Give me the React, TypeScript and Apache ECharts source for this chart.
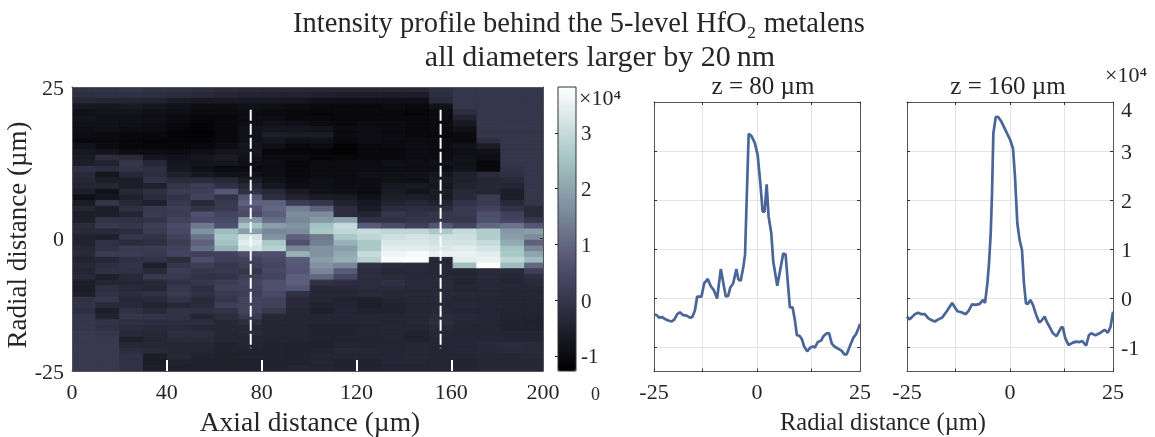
import React, { useEffect, useRef } from "react";
import * as echarts from "echarts";

// Heat map: one array per axial column, each holding 50 radial rows from +25 to -25 um (units of 1e4).
const c0 = [-0.05,-0.15,-0.35,-0.7,-0.85,-0.8,-0.85,-0.9,-0.95,-1.05,
  -0.85,-0.7,-0.65,-0.55,-0.1,-0.3,-0.35,-0.4,-0.55,-0.9,
  -0.6,-0.4,-0.55,-0.5,-0.25,-0.3,-0.45,-0.45,-0.35,-0.3,
  -0.45,-0.35,-0.4,-0.3,-0.55,-0.6,-0.55,-0.1,-0.05,-0.15,
  0,0,0.02,0.05,0.05,0.05,0.05,0.05,0.05,0.05];
const c1 = [-0.05,-0.1,-0.4,-0.75,-0.8,-0.85,-0.85,-0.85,-1.0,-1.05,
  -1.0,-0.8,-0.2,-0.45,-0.2,-0.75,-0.55,-0.35,-0.85,-0.75,
  0,-0.55,-0.55,-0.05,0.05,-0.3,-0.5,-0.1,-0.05,0.1,
  -0.35,-0.2,-0.1,-0.5,-0.4,-0.15,-0.1,0,-0.3,-0.55,
  -0.45,-0.05,-0.1,0,0.05,0.05,0.05,0.05,0.05,0.05];
const c2 = [0,-0.1,-0.4,-0.65,-0.8,-0.85,-0.9,-0.95,-1.05,-1.1,
  -1.1,-0.95,-0.3,0,-0.05,-0.35,-0.55,-0.55,-0.35,-0.5,
  -0.35,-0.15,-0.4,-0.1,0,-0.2,0,-0.25,0.1,0.15,
  -0.1,-0.05,-0.1,-0.3,-0.4,-0.3,-0.2,-0.35,-0.3,-0.1,
  0,-0.15,-0.2,-0.3,-0.5,-0.35,-0.2,-0.1,-0.1,-0.1];
const c3 = [-0.05,-0.15,-0.45,-0.75,-0.85,-0.9,-0.95,-0.95,-1.05,-1.15,
  -1.1,-0.95,-0.75,-0.35,-0.15,-0.2,-0.05,-0.5,-0.15,-0.25,
  -0.5,0.05,0.1,-0.05,0.2,0.1,-0.05,-0.15,0.1,0.05,
  -0.05,-0.55,-0.3,0.05,-0.3,-0.35,-0.1,-0.3,-0.45,-0.3,
  -0.05,-0.2,-0.3,-0.35,-0.4,-0.35,-0.3,-0.55,-0.6,-0.55];
const c4 = [-0.1,-0.25,-0.6,-0.85,-0.9,-1.0,-1.05,-1.1,-1.15,-1.15,
  -1.1,-1.0,-0.85,-0.75,-0.7,-0.5,-0.25,0,0.1,-0.05,
  0.05,0.2,0.15,0.3,0.5,0.4,0.3,0.15,0.3,0.35,
  -0.25,0,0.15,0.05,-0.1,0.05,0.1,-0.05,-0.35,-0.05,
  -0.1,-0.2,-0.25,-0.2,-0.25,-0.35,-0.35,-0.35,-0.45,-0.5];
const c5 = [-0.15,-0.3,-0.7,-0.95,-1.0,-1.1,-1.15,-1.15,-1.2,-1.15,
  -1.05,-0.9,-0.75,-0.8,-0.85,-0.7,-0.25,0.15,0.2,0.3,
  -0.3,-0.05,0.6,0.5,1.3,1.7,1.2,0.9,1.1,0.25,
  0.55,0.15,0,-0.1,0,-0.15,-0.1,-0.3,-0.25,-0.1,
  -0.4,-0.2,-0.35,-0.2,-0.25,-0.35,-0.4,-0.45,-0.5,-0.5];
const c6 = [-0.25,-0.4,-0.65,-0.95,-1.0,-1.05,-1.05,-1.05,-1.05,-1.05,
  -0.95,-0.8,-0.6,-0.75,-1.0,-0.85,-0.35,-0.1,0.75,-0.05,
  0.05,0.1,0.35,0.45,0.6,2.4,2.6,2.5,2.2,0.3,
  0.2,0,0.05,-0.05,0.15,0.25,0.1,0,0.2,-0.05,
  -0.2,-0.35,-0.35,-0.4,-0.4,-0.45,-0.45,-0.5,-0.5,-0.5];
const c7 = [-0.3,-0.45,-0.7,-0.85,-0.95,-0.95,-0.95,-0.85,-0.85,-0.85,
  -0.8,-0.75,-0.85,-0.9,-1.0,-0.85,-0.6,-0.35,-0.1,0.7,
  0.9,0.6,0.5,1.8,2.5,1.9,3.2,3.4,3.2,0.55,
  0.3,0.2,0,0.2,0.35,0.3,0.2,0.3,0.3,0.3,
  0.05,-0.2,-0.35,-0.3,-0.4,-0.4,-0.45,-0.45,-0.5,-0.5];
const c8 = [-0.3,-0.45,-0.7,-0.9,-1.0,-0.95,-0.85,-0.75,-0.55,-0.75,
  -0.9,-1.05,-1.0,-0.95,-0.95,-0.95,-0.85,-0.7,-0.35,-0.15,
  0.9,1.0,0.85,1.1,1.9,1.5,1.7,2.6,2.8,0.6,
  0.45,0.35,0.4,0.35,0.6,0.6,0.45,0.3,0.25,0.05,
  -0.35,-0.4,-0.4,-0.4,-0.42,-0.45,-0.45,-0.45,-0.45,-0.45];
const c9 = [-0.3,-0.45,-0.75,-1.0,-1.05,-1.05,-0.9,-0.75,-0.6,-0.9,
  -1.05,-1.1,-1.0,-1.05,-1.05,-1.05,-1.0,-0.95,-0.65,-0.45,
  0.15,1.4,1.6,1.5,1.7,1.6,0.9,0.6,1.5,2.2,
  0.8,0.75,0.7,0.85,0.85,0.7,-0.1,-0.3,-0.3,-0.35,
  -0.4,-0.4,-0.4,-0.4,-0.42,-0.45,-0.45,-0.45,-0.45,-0.42];
const c10 = [-0.35,-0.5,-0.85,-1.05,-1.1,-1.05,-1.0,-0.8,-0.6,-0.85,
  -1.0,-1.15,-1.1,-1.0,-1.0,-1.0,-0.9,-0.9,-0.85,-0.6,
  0,0.9,1.6,1.8,2.5,2.6,1.3,1.4,1.7,1.7,
  1.9,1.7,1.5,1.0,-0.1,-0.3,-0.35,-0.4,-0.45,-0.5,
  -0.42,-0.42,-0.45,-0.45,-0.48,-0.48,-0.45,-0.4,-0.4,-0.42];
const c11 = [-0.35,-0.55,-0.9,-1.05,-1.05,-1.05,-1.05,-1.0,-1.0,-1.05,
  -1.2,-1.2,-1.1,-1.0,-1.0,-1.0,-1.0,-0.95,-0.9,-0.65,
  -0.45,-0.2,-0.2,2.0,3.0,2.9,2.6,2.2,1.9,2.1,
  2.2,1.5,0.8,0.4,-0.2,-0.3,-0.35,-0.45,-0.42,-0.38,
  -0.38,-0.42,-0.45,-0.45,-0.45,-0.38,-0.35,-0.4,-0.45,-0.45];
const c12 = [-0.35,-0.55,-0.85,-1.05,-1.05,-1.05,-1.0,-0.95,-0.95,-0.95,
  -1.05,-1.05,-1.05,-1.0,-0.95,-0.9,-0.95,-0.95,-1.0,-0.85,
  -0.7,-0.6,-0.4,-0.1,0.8,3.0,2.9,2.6,2.6,3.0,
  2.8,-0.15,-0.2,-0.2,-0.22,-0.25,-0.28,-0.5,-0.55,-0.45,
  -0.4,-0.4,-0.42,-0.42,-0.45,-0.42,-0.38,-0.42,-0.45,-0.45];
const c13 = [-0.35,-0.6,-0.9,-1.0,-1.05,-1.05,-1.0,-1.0,-1.0,-1.0,
  -1.0,-1.05,-1.05,-0.9,-0.95,-0.9,-0.85,-0.7,-0.65,-0.55,
  -0.45,-0.25,0,-0.1,0.5,2.9,3.1,3.3,3.4,3.6,
  3.75,-0.25,-0.3,-0.25,-0.12,-0.25,-0.32,-0.42,-0.45,-0.45,
  -0.42,-0.42,-0.38,-0.38,-0.42,-0.42,-0.42,-0.38,-0.38,-0.42];
const c14 = [-0.35,-0.6,-0.9,-1.05,-1.1,-1.05,-1.05,-1.05,-1.05,-1.0,
  -0.95,-0.95,-1.0,-0.95,-0.95,-0.85,-0.9,-0.65,-0.8,-0.55,
  -0.35,-0.2,-0.1,0,0.2,2.9,3.2,3.3,3.4,3.7,
  3.8,-0.3,-0.3,-0.3,-0.3,-0.3,-0.32,-0.35,-0.4,-0.35,
  -0.35,-0.35,-0.4,-0.48,-0.48,-0.35,-0.35,-0.35,-0.4,-0.42];
const c15 = [-0.15,-0.2,-0.3,-0.85,-1.0,-1.0,-1.0,-1.0,-1.05,-1.0,
  -1.0,-1.0,-1.0,-0.85,-0.95,-0.75,-0.65,-0.75,-0.6,-0.65,
  -0.45,-0.25,0,0,0.7,2.6,3.1,3.2,3.3,3.5,
  -0.35,-0.35,-0.35,-0.32,-0.3,-0.3,-0.3,-0.32,-0.35,-0.32,
  -0.25,-0.18,-0.3,-0.35,-0.38,-0.38,-0.38,-0.38,-0.4,-0.4];
const c16 = [0,0,0,0,-0.2,-0.45,-0.7,-0.85,-1.0,-1.05,
  -0.85,-0.9,-0.85,-0.85,-0.8,-0.5,-0.5,-0.45,-0.35,-0.3,
  -0.05,0.05,0.05,0,0.35,3.0,3.1,3.2,3.4,3.5,
  3.4,2.4,-0.4,-0.4,-0.42,-0.36,-0.32,-0.4,-0.32,-0.36,
  -0.32,-0.36,-0.4,-0.4,-0.36,-0.36,-0.36,-0.4,-0.42,-0.42];
const c17 = [0,0,0,0,0,0,0,0,0,-0.2,
  -0.6,-0.85,-0.95,-1.05,-1.05,-0.25,-0.4,-0.35,-0.4,0.1,
  0.1,0.3,0.55,0.6,1.0,2.7,2.7,3.0,3.2,3.4,
  3.5,3.8,-0.28,-0.28,-0.32,-0.32,-0.35,-0.4,-0.36,-0.4,
  -0.36,-0.36,-0.4,-0.4,-0.36,-0.28,-0.32,-0.35,-0.35,-0.36];
const c18 = [0,0,0,0,0,0,0,0,0,0,
  0,0,0,0,-0.05,-0.15,-0.3,-0.4,-0.55,-0.55,
  -0.3,-0.05,0.25,0.35,1.2,1.8,1.9,2.1,2.5,2.6,
  2.9,2.4,-0.28,-0.35,-0.38,-0.38,-0.4,-0.4,-0.42,-0.42,
  -0.45,-0.45,-0.45,-0.42,-0.36,-0.25,-0.28,-0.35,-0.35,-0.36];
const c19 = [0,0,0,0,0,0,0,0,0,0,
  0,0,0,0,0,0,0,0,0,0,
  0,-0.3,-0.3,0,0.7,1.9,1.6,0.9,1.5,2.0,
  2.4,1.0,0.2,-0.18,-0.28,-0.35,-0.36,-0.4,-0.42,-0.42,
  -0.45,-0.48,-0.45,-0.42,-0.4,-0.28,-0.28,-0.32,-0.35,-0.35];
const heatColumns = [c0,c1,c2,c3,c4,c5,c6,c7,c8,c9,c10,c11,c12,c13,c14,c15,c16,c17,c18,c19];

const columnStep = 10.05; // um
const rowStep = 1; // um
const dashedZ = [75.4, 155.5];
const dashedR = [21, -21];

// Colour scale (MATLAB "bone")
const boneColors = ["#000000","#1b1b26","#36364c","#515171","#6e788e","#8a9faa","#a6c6c6","#d3e3e3","#ffffff"];
const colorMin = -1.26;
const colorMax = 3.82;
const colorTicks = [-1,0,1,2,3];

// Line profiles
const z80X = [-25,-24.35,-23.79,-22.98,-22.34,-21.53,-20.73,-20.08,-19.35,-18.71,-17.9,-17.1,-16.29,-15.73,-15.08,-14.52,-13.47,-12.82,-11.94,-11.21,-10.48,-9.68,-8.79,-7.58,-7.02,-6.45,-5.81,-5,-4.52,-3.95,-3.31,-2.9,-2.58,-2.02,-1.37,-0.56,0.16,0.81,1.37,1.85,2.34,2.82,3.47,3.95,4.92,5.56,6.37,6.94,7.5,7.98,8.63,9.19,9.68,10.32,10.89,11.45,12.18,12.98,13.55,14.03,14.76,15.56,16.13,16.94,17.5,18.15,18.79,19.6,20.56,21.21,21.77,22.66,23.39,24.03,24.6,25];
const z80Y = [-0.33,-0.35,-0.4,-0.39,-0.43,-0.46,-0.48,-0.44,-0.33,-0.29,-0.35,-0.36,-0.4,-0.39,-0.26,0.03,0.03,0.3,0.39,0.24,0.16,-0.01,0.59,0.03,0.04,0.22,0.29,0.59,0.38,0.35,0.64,0.88,1.8,3.35,3.31,3.17,2.92,2.34,1.76,1.76,2.32,1.66,1.32,0.74,0.25,0.54,0.91,0.89,0.3,-0.19,-0.19,-0.45,-0.76,-0.77,-0.84,-0.99,-1.09,-1.01,-0.99,-1.01,-0.9,-0.87,-0.78,-0.72,-0.72,-0.93,-0.99,-1.03,-1.08,-1.15,-1.15,-0.96,-0.81,-0.74,-0.62,-0.53];
const z160X = [-25,-24.47,-23.91,-23.1,-22.29,-21.49,-20.68,-19.87,-19.06,-18.26,-17.45,-16.48,-15.43,-14.05,-12.76,-11.79,-10.74,-10.02,-9.21,-8.32,-7.35,-6.54,-6.06,-5.49,-5.09,-4.68,-4.36,-4.04,-3.47,-2.91,-2.1,-0.89,0.08,0.73,1.21,1.78,2.34,2.91,3.39,3.88,4.36,4.93,5.57,6.38,7.11,7.67,8.4,8.89,9.61,10.42,11.31,12.44,12.84,13.41,14.22,15.27,16.07,16.88,17.53,18.5,19.14,19.71,20.76,21.73,22.94,23.75,24.39,25];
const z160Y = [-0.38,-0.44,-0.4,-0.33,-0.3,-0.33,-0.33,-0.41,-0.45,-0.48,-0.44,-0.4,-0.28,-0.1,-0.27,-0.29,-0.33,-0.26,-0.13,-0.14,-0.12,-0.04,-0.1,0.3,0.71,1.32,2.14,3.36,3.69,3.7,3.6,3.39,3.22,3.05,2.48,1.52,1.18,0.98,0.3,-0.11,-0.12,-0.04,-0.14,-0.35,-0.5,-0.46,-0.38,-0.48,-0.59,-0.72,-0.78,-0.6,-0.6,-0.82,-0.96,-0.91,-0.89,-0.9,-0.88,-0.97,-0.76,-0.72,-0.76,-0.72,-0.65,-0.71,-0.59,-0.28];

// Axis ticks
const heatXTicks = [40,80,120,160];
const heatXLabels = [0,40,80,120,160,198.7]; // the last tick is printed as 200
const heatYLabels = [-25,-1.6,25]; // the middle label is printed as 0, where the reference has it
const radialTicks = [-25,-13.2,0,13.2,25];
const radialLabels = [-25,0,25];
const intensityTicks = [-1,0,1,2,3,4];
const intensityLabels = [-1,0,1,2,3,3.84]; // the top label is printed as 4, just under the frame

const FONT = "Liberation Serif";
const INK = "#262626";
const FRAME = "#555555";

function zip(a: number[], b: number[]) { return a.map((v, i) => [v, b[i]]); }

const heatData: number[][] = [];
heatColumns.forEach((col, c) => col.forEach((v, r) => heatData.push([c, r, v])));

const lineColor = "#4a6598";

function frameAxis(gridIndex: number, position: string, min: number, max: number, ticks: number[] | null) {
  return {
    gridIndex, type: "value", position, min, max, z: 10,
    axisLine: { show: true, onZero: false, lineStyle: { color: FRAME, width: 1 } },
    axisTick: ticks ? { show: true, inside: true, length: 3, customValues: ticks, lineStyle: { color: "#333", width: 1 } } : { show: false },
    axisLabel: { show: false },
    splitLine: { show: false },
  };
}

function lineAxisX(gridIndex: number) {
  return {
    gridIndex, type: "value", position: "bottom", min: -25, max: 25,
    axisLine: { show: true, onZero: false, lineStyle: { color: FRAME, width: 1 } },
    axisTick: { show: true, inside: true, length: 3, customValues: radialTicks, lineStyle: { color: "#333", width: 1 } },
    axisLabel: { show: true, customValues: radialLabels, margin: 9, fontFamily: FONT, fontSize: 22, color: INK, formatter: (v: number) => String(v) },
    splitLine: { show: true, lineStyle: { color: "#e4e4e4", width: 1 } },
  };
}

function lineAxisY(gridIndex: number, position: string, showLabels: boolean) {
  return {
    gridIndex, type: "value", position, min: -1.5, max: 4,
    axisLine: { show: true, onZero: false, lineStyle: { color: FRAME, width: 1 } },
    axisTick: { show: true, inside: true, length: 3, customValues: intensityTicks, lineStyle: { color: "#333", width: 1 } },
    axisLabel: showLabels
      ? { show: true, customValues: intensityLabels, margin: 8, fontFamily: FONT, fontSize: 22, color: INK, formatter: (v: number) => (v === intensityLabels[5] ? "4" : String(v)) }
      : { show: false },
    splitLine: { show: true, lineStyle: { color: "#e4e4e4", width: 1 } },
  };
}

function buildOption() {
  return {
    animation: false,
    backgroundColor: "#ffffff",
    textStyle: { fontFamily: FONT },
    title: [
      { text: "Intensity profile behind the 5-level HfO\u2082 metalens", left: 574, top: 3, textAlign: "center", textStyle: { fontFamily: FONT, fontSize: 28.5, fontWeight: "normal", color: INK } },
      { text: "all diameters larger by 20\u2009nm", left: 595, top: 35, textAlign: "center", textStyle: { fontFamily: FONT, fontSize: 30, fontWeight: "normal", color: INK } },
      { text: "z = 80 \u00b5m", left: 758, top: 68, textAlign: "center", textStyle: { fontFamily: FONT, fontSize: 25, fontWeight: "normal", color: INK } },
      { text: "z = 160 \u00b5m", left: 1003, top: 68, textAlign: "center", textStyle: { fontFamily: FONT, fontSize: 25, fontWeight: "normal", color: INK } },
    ],
    grid: [
      { left: 72, top: 87, width: 471, height: 284, outerBoundsMode: "none" },
      { left: 558, top: 87, width: 18, height: 284, outerBoundsMode: "none" },
      { left: 654, top: 102, width: 206, height: 269.5, outerBoundsMode: "none" },
      { left: 907, top: 102, width: 206, height: 269.5, outerBoundsMode: "none" },
    ],
    xAxis: [
      {
        gridIndex: 0, type: "value", position: "bottom", min: 0, max: heatXLabels[5], z: 10,
        name: "Axial distance (\u00b5m)", nameLocation: "middle", nameGap: 36,
        nameTextStyle: { fontFamily: FONT, fontSize: 27.5, color: INK, padding: [0, 0, 0, 5] },
        axisLine: { show: true, onZero: false, lineStyle: { color: FRAME, width: 1 } },
        axisTick: { show: true, inside: true, length: 11, customValues: heatXTicks, lineStyle: { color: "#ffffff", width: 2 } },
        axisLabel: { show: true, customValues: heatXLabels, margin: 9, fontFamily: FONT, fontSize: 22, color: INK, formatter: (v: number) => (v === heatXLabels[5] ? "200" : String(v)) },
        splitLine: { show: false },
      },
      frameAxis(0, "top", 0, heatXLabels[5], null),
      { gridIndex: 1, type: "value", min: 0, max: 1, show: false },
      lineAxisX(2),
      frameAxis(2, "top", -25, 25, radialTicks),
      lineAxisX(3),
      frameAxis(3, "top", -25, 25, radialTicks),
    ],
    yAxis: [
      {
        gridIndex: 0, type: "value", position: "left", min: -25, max: 25, z: 10,
        name: "Radial distance (\u00b5m)", nameLocation: "middle", nameGap: 37, nameRotate: 90,
        nameTextStyle: { fontFamily: FONT, fontSize: 27, color: INK, padding: [0, 12, 0, 0] },
        axisLine: { show: true, onZero: false, lineStyle: { color: FRAME, width: 1 } },
        axisTick: { show: false },
        axisLabel: { show: true, customValues: heatYLabels, margin: 8, fontFamily: FONT, fontSize: 22, color: INK, formatter: (v: number) => (v === heatYLabels[1] ? "0" : String(v)) },
        splitLine: { show: false },
      },
      frameAxis(0, "right", -25, 25, [heatYLabels[1]]),
      {
        gridIndex: 1, type: "value", position: "right", min: colorMin, max: colorMax, z: 10,
        axisLine: { show: false },
        axisTick: { show: true, inside: true, length: 3, customValues: colorTicks, lineStyle: { color: "#222", width: 1 } },
        axisLabel: { show: true, customValues: colorTicks, margin: 5, fontFamily: FONT, fontSize: 21, color: INK, formatter: (v: number) => String(v) },
        splitLine: { show: false },
      },
      lineAxisY(2, "left", false),
      frameAxis(2, "right", -1.5, 4, intensityTicks),
      lineAxisY(3, "right", true),
      frameAxis(3, "left", -1.5, 4, intensityTicks),
    ],
    visualMap: {
      type: "continuous", seriesIndex: 0, dimension: 2, min: colorMin, max: colorMax,
      left: 558, top: 87, itemWidth: 18, itemHeight: 284, padding: 0,
      calculable: false, realtime: false, showLabel: false, text: ["", ""], textGap: 0, hoverLink: false,
      inRange: { color: boneColors },
    },
    graphic: [
      { type: "rect", silent: true, z: 100, shape: { x: 558, y: 87, width: 18, height: 284 }, style: { fill: "none", stroke: "#333", lineWidth: 1 } },
      { type: "text", silent: true, z: 100, x: 579, y: 86, style: { text: "\u00d710\u2074", fontFamily: FONT, fontSize: 22, fill: INK } },
      { type: "text", silent: true, z: 100, x: 1105, y: 63, style: { text: "\u00d710\u2074", fontFamily: FONT, fontSize: 22, fill: INK } },
      { type: "text", silent: true, z: 100, x: 591, y: 385, style: { text: "0", fontFamily: FONT, fontSize: 18, fill: INK } },
      { type: "text", silent: true, z: 100, x: 883, y: 421, style: { text: "Radial distance (\u00b5m)", fontFamily: FONT, fontSize: 24.5, fill: INK, align: "center", verticalAlign: "middle" } },
    ],
    series: [
      {
        type: "custom", xAxisIndex: 0, yAxisIndex: 0, clip: true, coordinateSystem: "cartesian2d",
        encode: { x: 0, y: 1 }, data: heatData, silent: true,
        renderItem: (_: any, api: any) => {
          const c = api.value(0);
          const r = api.value(1);
          const a = api.coord([c * columnStep, 25 - r * rowStep]);
          const b = api.coord([(c + 1) * columnStep, 25 - (r + 1) * rowStep]);
          const color = api.visual("color");
          return {
            type: "rect",
            shape: { x: a[0], y: a[1], width: b[0] - a[0], height: b[1] - a[1] },
            style: { fill: color, stroke: color, lineWidth: 1 },
          };
        },
      },
      {
        type: "line", xAxisIndex: 0, yAxisIndex: 0, showSymbol: false, silent: true, z: 5,
        data: zip([dashedZ[0], dashedZ[0]], dashedR),
        lineStyle: { color: "#ffffff", width: 2, type: [11, 3] },
      },
      {
        type: "line", xAxisIndex: 0, yAxisIndex: 0, showSymbol: false, silent: true, z: 5,
        data: zip([dashedZ[1], dashedZ[1]], dashedR),
        lineStyle: { color: "#ffffff", width: 2, type: [11, 3] },
      },
      {
        type: "line", xAxisIndex: 3, yAxisIndex: 3, showSymbol: false, silent: true, smooth: false,
        data: zip(z80X, z80Y), lineStyle: { color: lineColor, width: 2.7 },
      },
      {
        type: "line", xAxisIndex: 5, yAxisIndex: 5, showSymbol: false, silent: true, smooth: false,
        data: zip(z160X, z160Y), lineStyle: { color: lineColor, width: 2.7 },
      },
    ],
  };
}

export default function App() {
  const ref = useRef<HTMLDivElement>(null);
  useEffect(() => {
    if (!ref.current) return;
    const chart = echarts.init(ref.current, undefined, { renderer: "svg" });
    chart.setOption(buildOption() as any);
    return () => chart.dispose();
  }, []);
  return <div ref={ref} style={{ position: "fixed", left: 0, top: 0, width: 1155, height: 437, filter: "blur(0.45px)" }} />;
}
